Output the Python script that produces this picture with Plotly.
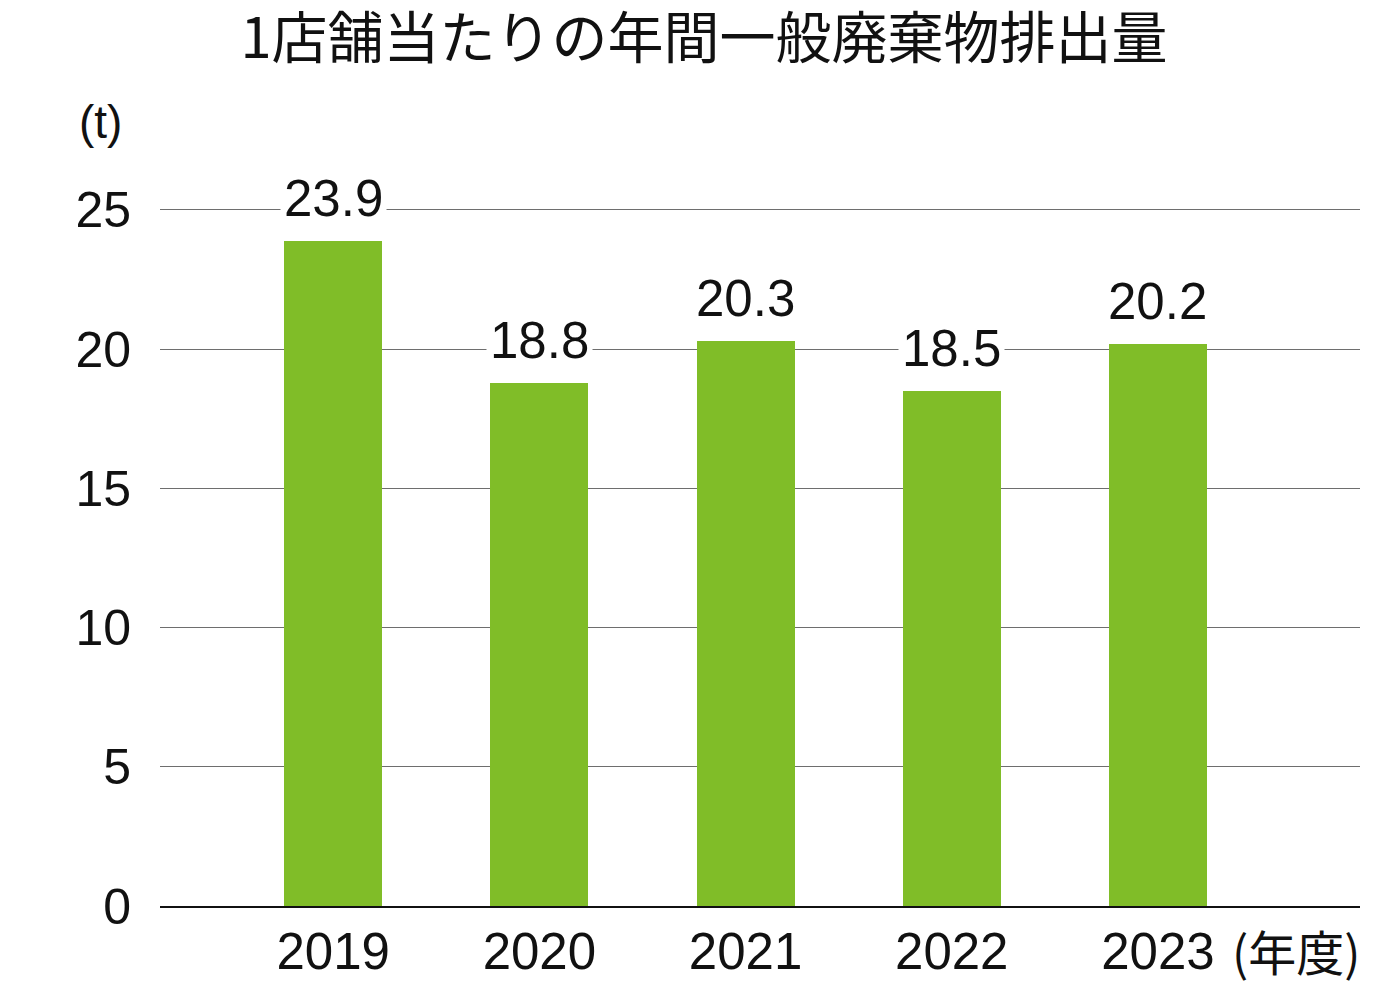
import plotly.graph_objects as go

years = ["2019", "2020", "2021", "2022", "2023"]
values = [23.9, 18.8, 20.3, 18.5, 20.2]
value_labels = ["23.9", "18.8", "20.3", "18.5", "20.2"]
y_ticks = [0, 5, 10, 15, 20, 25]
title_text = "1店舗当たりの年間一般廃棄物排出量"
y_unit = "(t)"
x_unit = "(年度)"

xpos = list(range(len(years)))
num_font = "Liberation Sans, Arial, sans-serif"
jp_font = "Noto Sans CJK JP, sans-serif"

fig = go.Figure()
fig.add_trace(go.Bar(
    x=xpos, y=values, width=0.475,
    marker=dict(color="#80BD28", line=dict(width=0)),
    hoverinfo="skip",
))

for xi, v, lab in zip(xpos, values, value_labels):
    fig.add_annotation(
        x=xi, y=v, text=lab, showarrow=False,
        yanchor="bottom", yshift=10,
        font=dict(family=num_font, size=51, color="#111"),
        bgcolor="white", borderpad=3,
    )

fig.add_annotation(
    x=-0.05, xref="paper", y=1.104, yref="paper", text=y_unit, showarrow=False,
    xanchor="center", yanchor="middle",
    font=dict(family=num_font, size=46, color="#111"),
)
fig.add_annotation(
    x=1.0017, xref="paper", y=-0.062, yref="paper", text=x_unit, showarrow=False,
    xanchor="right", yanchor="middle",
    font=dict(family=jp_font, size=48, color="#111"),
)

fig.update_layout(
    width=1392, height=992,
    margin=dict(l=152, r=40, t=188, b=94),
    paper_bgcolor="white", plot_bgcolor="white",
    showlegend=False,
    title=dict(
        text=title_text, x=0.5, xanchor="center", y=1 - 30 / 992, yanchor="middle",
        font=dict(family=jp_font, size=56, color="#111"),
    ),
    xaxis=dict(
        range=[-0.84, 4.98], tickmode="array", tickvals=xpos, ticktext=years,
        showgrid=False, zeroline=False, showline=True, linecolor="#111", linewidth=2,
        ticks="", ticklabelstandoff=0,
        tickfont=dict(family=num_font, size=51, color="#111"),
        fixedrange=True,
    ),
    yaxis=dict(
        range=[0, 25.5], tickmode="array", tickvals=y_ticks,
        showgrid=True, gridcolor="#6e6e6e", gridwidth=1,
        zeroline=False, showline=False, ticks="", ticklabelstandoff=28,
        tickfont=dict(family=num_font, size=50, color="#111"),
        fixedrange=True,
    ),
    bargap=0,
)

fig.write_html("out.html")
